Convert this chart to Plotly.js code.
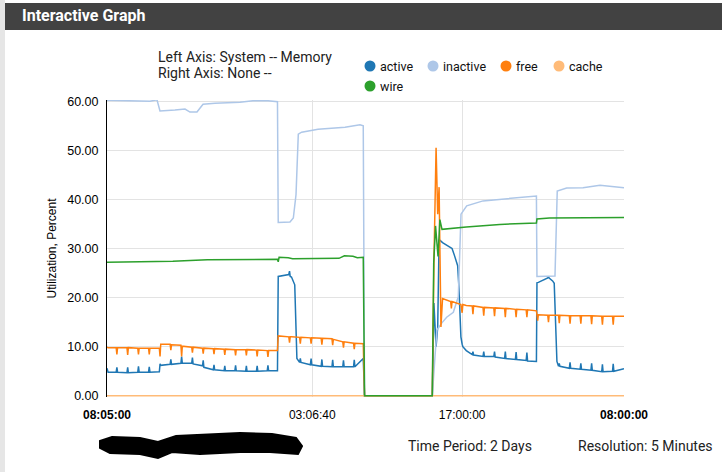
<!DOCTYPE html>
<html>
<head>
<meta charset="utf-8">
<script src="https://cdn.plot.ly/plotly-3.0.1.min.js"></script>
<style>
html,body{margin:0;padding:0;background:#fff;}
#chart{width:722px;height:472px;}
</style>
</head>
<body>
<div id="chart"></div>
<script>
// ---- data (x in hours since 08:05:00, values in percent) ----
const seriesNames = ["active", "inactive", "free", "cache", "wire"];
const seriesColors = ["#1f77b4", "#aec7e8", "#ff7f0e", "#ffbb78", "#2ca02c"];

// shared time points for "free" and "active"
const tFreeActive = [0.00,0.10,0.85,0.917,0.98,1.85,1.917,1.98,2.85,2.917,2.98,3.85,3.917,3.98,4.85,4.917,4.98,5.85,5.917,5.98,6.85,6.917,6.98,7.85,7.917,7.98,8.85,8.917,8.98,9.85,9.917,9.98,10.85,10.917,10.98,11.85,11.917,11.98,12.85,12.917,12.98,13.85,13.917,13.98,14.85,14.917,14.98,15.80,15.87,16.85,16.917,16.98,17.10,17.40,17.60,17.85,17.917,17.98,18.85,18.917,18.98,19.85,19.917,19.98,20.85,20.917,20.98,21.85,21.917,21.98,22.85,22.917,22.98,23.75,23.87,30.15,30.30,30.50,30.65,30.78,30.95,31.10,31.85,31.917,31.98,32.20,32.50,32.62,32.80,32.917,32.98,33.30,33.85,33.917,33.98,34.85,34.917,34.98,35.85,35.917,35.98,36.85,36.917,36.98,37.85,37.917,37.98,38.85,38.917,38.98,39.80,39.85,39.917,39.98,40.85,40.917,40.98,41.30,41.45,41.70,41.85,41.917,41.98,42.85,42.917,42.98,43.85,43.917,43.98,44.85,44.917,44.98,45.85,45.917,45.98,46.85,46.917,46.98,47.917];
const freeVals = [9.9,9.8,9.8,8.4,9.8,9.8,8.3,9.8,9.7,8.4,9.7,9.7,8.4,9.7,9.7,8.0,10.5,10.5,9.3,10.4,10.3,8.0,10.1,9.9,8.8,9.9,9.7,8.6,9.7,9.6,8.5,9.6,9.5,8.3,9.5,9.4,8.2,9.4,9.4,8.2,9.4,9.3,8.0,9.3,9.2,7.9,9.2,9.2,12.2,12.0,10.8,12.0,12.0,12.0,11.9,11.9,10.6,11.9,11.8,10.6,11.8,11.7,10.4,11.7,11.6,10.3,11.5,11.0,9.8,11.0,10.7,9.5,10.7,10.6,0,0,27,50.5,37,42.5,14,19.8,19.2,17.8,19.2,19.0,18.8,18.7,18.6,16.9,18.6,18.4,18.3,16.6,18.3,18.0,16.3,18.0,17.9,16.2,17.9,17.8,16.0,17.8,17.6,16.0,17.6,17.5,16.0,17.5,17.3,16.5,15.3,16.5,16.4,15.0,16.4,16.4,16.4,16.4,16.4,14.8,16.4,16.3,14.7,16.3,16.3,14.7,16.3,16.3,14.6,16.3,16.2,14.5,16.2,16.2,14.5,16.2,16.2];
const activeVals = [5.6,4.8,4.8,5.8,4.8,4.7,5.8,4.7,4.8,6.0,4.8,4.8,5.9,4.8,4.9,6.5,6.2,6.4,7.4,6.4,6.6,8.0,6.6,6.6,7.8,6.5,6.1,7.2,5.8,5.3,6.3,5.3,5.1,6.1,5.1,5.1,6.2,5.1,5.0,6.1,5.0,5.0,6.1,5.0,5.1,6.2,5.1,5.1,24.3,24.7,25.4,24.3,24.2,22.6,7.6,6.8,7.6,6.8,6.3,7.6,6.3,6.0,7.4,6.0,5.9,7.3,5.9,5.9,7.2,5.9,5.9,7.3,5.9,7.6,0,0,18.9,10,14,31.8,31.5,31.2,30.2,30.0,30.0,28.6,26.5,22,12,10.5,10,9.2,8.4,9.0,8.3,8.0,9.0,8.0,8.0,9.0,7.9,7.6,9.0,7.6,7.4,8.9,7.4,7.2,8.8,7.1,7.0,23.0,23.0,23.1,24.0,24.3,24.0,23.4,22.9,7.0,6.0,6.6,6.0,5.6,6.8,5.6,5.4,6.6,5.4,5.2,6.6,5.2,4.9,6.4,4.9,5.0,6.5,5.0,5.5];

const tInactive = [0,3.99,4.63,4.91,6.30,7.23,7.69,8.34,8.90,10.01,12.33,13.53,14.92,15.80,15.87,16.96,17.27,17.52,17.73,18.04,19.56,22.06,23.45,23.75,23.87,30.15,30.40,30.58,31.02,31.48,32.10,32.56,32.81,33.34,34.85,37.97,39.80,39.85,41.52,41.73,42.60,44.12,45.69,47.917];
const inactiveVals = [60.2,60.0,60.3,58.0,58.2,58.4,57.8,57.8,59.4,59.6,59.8,60.1,60.1,59.9,35.3,35.4,36.2,41.0,53.3,53.7,54.3,54.7,55.2,55.0,0,0,8.0,13.4,14.8,16.0,17.0,20.2,37.0,38.7,39.7,40.4,40.7,24.3,24.4,41.7,42.3,42.4,42.9,42.4];

const tWire = [0,6.1,9.3,15.80,15.87,15.95,16.8,17.2,21.5,22.0,22.8,23.2,23.75,23.87,30.15,30.28,30.45,30.68,30.85,31.05,33.3,36.4,39.80,39.85,41.0,44.0,47.917];
const wireVals = [27.2,27.4,27.7,27.8,27.3,28.2,28.1,27.9,28.0,28.5,28.4,28.1,28.2,0,0,27.1,34.6,28.4,35.9,33.9,34.4,34.9,35.2,36.0,36.2,36.3,36.3];

const tCache = [0, 47.917];
const cacheVals = [0, 0];

const xTickVals = [0, 19.028, 32.917, 47.917];
const xTickText = ["<b>08:05:00</b>", "03:06:40", "17:00:00", "<b>08:00:00</b>"];
const yTickVals = [0, 10, 20, 30, 40, 50, 60];

// ---- layout helpers (pixel -> paper) ----
const W = 722, H = 472, ML = 107, MR = 98, MT = 100, MB = 75;
const PW = W - ML - MR, PH = H - MT - MB;
const X = p => (p - ML) / PW;
const Y = p => (H - MB - p) / PH;

const xs = [tFreeActive, tInactive, tFreeActive, tCache, tWire];
const ys = [activeVals, inactiveVals, freeVals, cacheVals, wireVals];
const traces = seriesNames.map((n, i) => ({
  type: "scatter", mode: "lines", name: n,
  x: xs[i], y: ys[i],
  line: {color: seriesColors[i], width: 1.5},
  hoverinfo: "skip"
}));

const roboto = "Roboto, 'Noto Sans', Arial, sans-serif";
const ann = (text, x, y, size, color, anchor, extra) => Object.assign({
  text, xref: "paper", yref: "paper", x: X(x), y: Y(y),
  xanchor: anchor || "left", yanchor: "middle", showarrow: false,
  font: {family: roboto, size: size, color: color}
}, extra || {});

const legendItems = [
  {name: "active", cx: 370, cy: 66},
  {name: "inactive", cx: 433, cy: 66},
  {name: "free", cx: 506, cy: 66},
  {name: "cache", cx: 559, cy: 66},
  {name: "wire", cx: 370, cy: 86}
];

const annotations = [
  ann("Interactive Graph", 20, 16, 16, "#ffffff", "left", {font: {family: roboto, size: 16, color: "#fff", weight: 700}}),
  ann("Left Axis: System -- Memory", 156, 57, 14, "#222"),
  ann("Right Axis: None --", 156, 73, 14, "#222"),
  ann("Time Period: 2 Days", 406, 446, 14, "#222"),
  ann("Resolution: 5 Minutes", 576, 446, 14, "#222")
];
const shapes = [
  {type: "rect", xref: "paper", yref: "paper", x0: X(0), x1: X(722), y0: Y(472), y1: Y(0), fillcolor: "#ffffff", line: {width: 0}, layer: "below"},
  {type: "rect", xref: "paper", yref: "paper", x0: X(0), x1: X(5), y0: Y(472), y1: Y(0), fillcolor: "#e6e6e6", line: {width: 0}},
  {type: "rect", xref: "paper", yref: "paper", x0: X(5), x1: X(722), y0: Y(30), y1: Y(3), fillcolor: "#424242", line: {width: 0}}
];
legendItems.forEach((it, i) => {
  const idx = seriesNames.indexOf(it.name);
  shapes.push({type: "circle", xref: "paper", yref: "paper",
    x0: X(it.cx - 5.5), x1: X(it.cx + 5.5), y0: Y(it.cy + 5.5), y1: Y(it.cy - 5.5),
    fillcolor: seriesColors[idx], line: {width: 0}});
  annotations.push(ann(it.name, it.cx + 8, it.cy, 12.5, "#111"));
});
// redaction scribble
const scrib = [[100,441],[112,437],[140,438],[158,442],[176,436],[240,433],[272,434],[296,438],[302,446],[298,454],[270,452],[240,452],[200,454],[172,452],[158,458],[140,454],[110,453],[100,448]];
shapes.push({type: "path", xref: "paper", yref: "paper",
  path: "M" + scrib.map(p => X(p[0]).toFixed(4) + "," + Y(p[1]).toFixed(4)).join(" L") + " Z",
  fillcolor: "#000", line: {color: "#000", width: 2}});

const layout = {
  width: W, height: H,
  margin: {l: ML, r: MR, t: MT, b: MB, pad: 0},
  paper_bgcolor: "#ffffff", plot_bgcolor: "#ffffff",
  showlegend: false,
  font: {family: "Arial, 'Liberation Sans', sans-serif", size: 12, color: "#000"},
  xaxis: {
    range: [0, 47.917], tickmode: "array", tickvals: xTickVals, ticktext: xTickText,
    showgrid: true, gridcolor: "#e3e3e3", zeroline: false, showline: false,
    ticks: "outside", ticklen: 7, tickcolor: "rgba(0,0,0,0)",
    tickfont: {size: 12, color: "#000"}
  },
  yaxis: {
    range: [-0.25, 60.25], tickmode: "array", tickvals: yTickVals, tickformat: ".2f",
    showgrid: true, gridcolor: "#e3e3e3", zeroline: false,
    showline: true, linecolor: "#000", linewidth: 1,
    ticks: "outside", ticklen: 5, tickcolor: "rgba(0,0,0,0)",
    tickfont: {size: 12.5, color: "#000"},
    title: {text: "Utilization, Percent", font: {size: 12, color: "#000"}, standoff: 8}
  },
  annotations, shapes
};

Plotly.newPlot("chart", traces, layout, {staticPlot: true, displayModeBar: false});
</script>
</body>
</html>
